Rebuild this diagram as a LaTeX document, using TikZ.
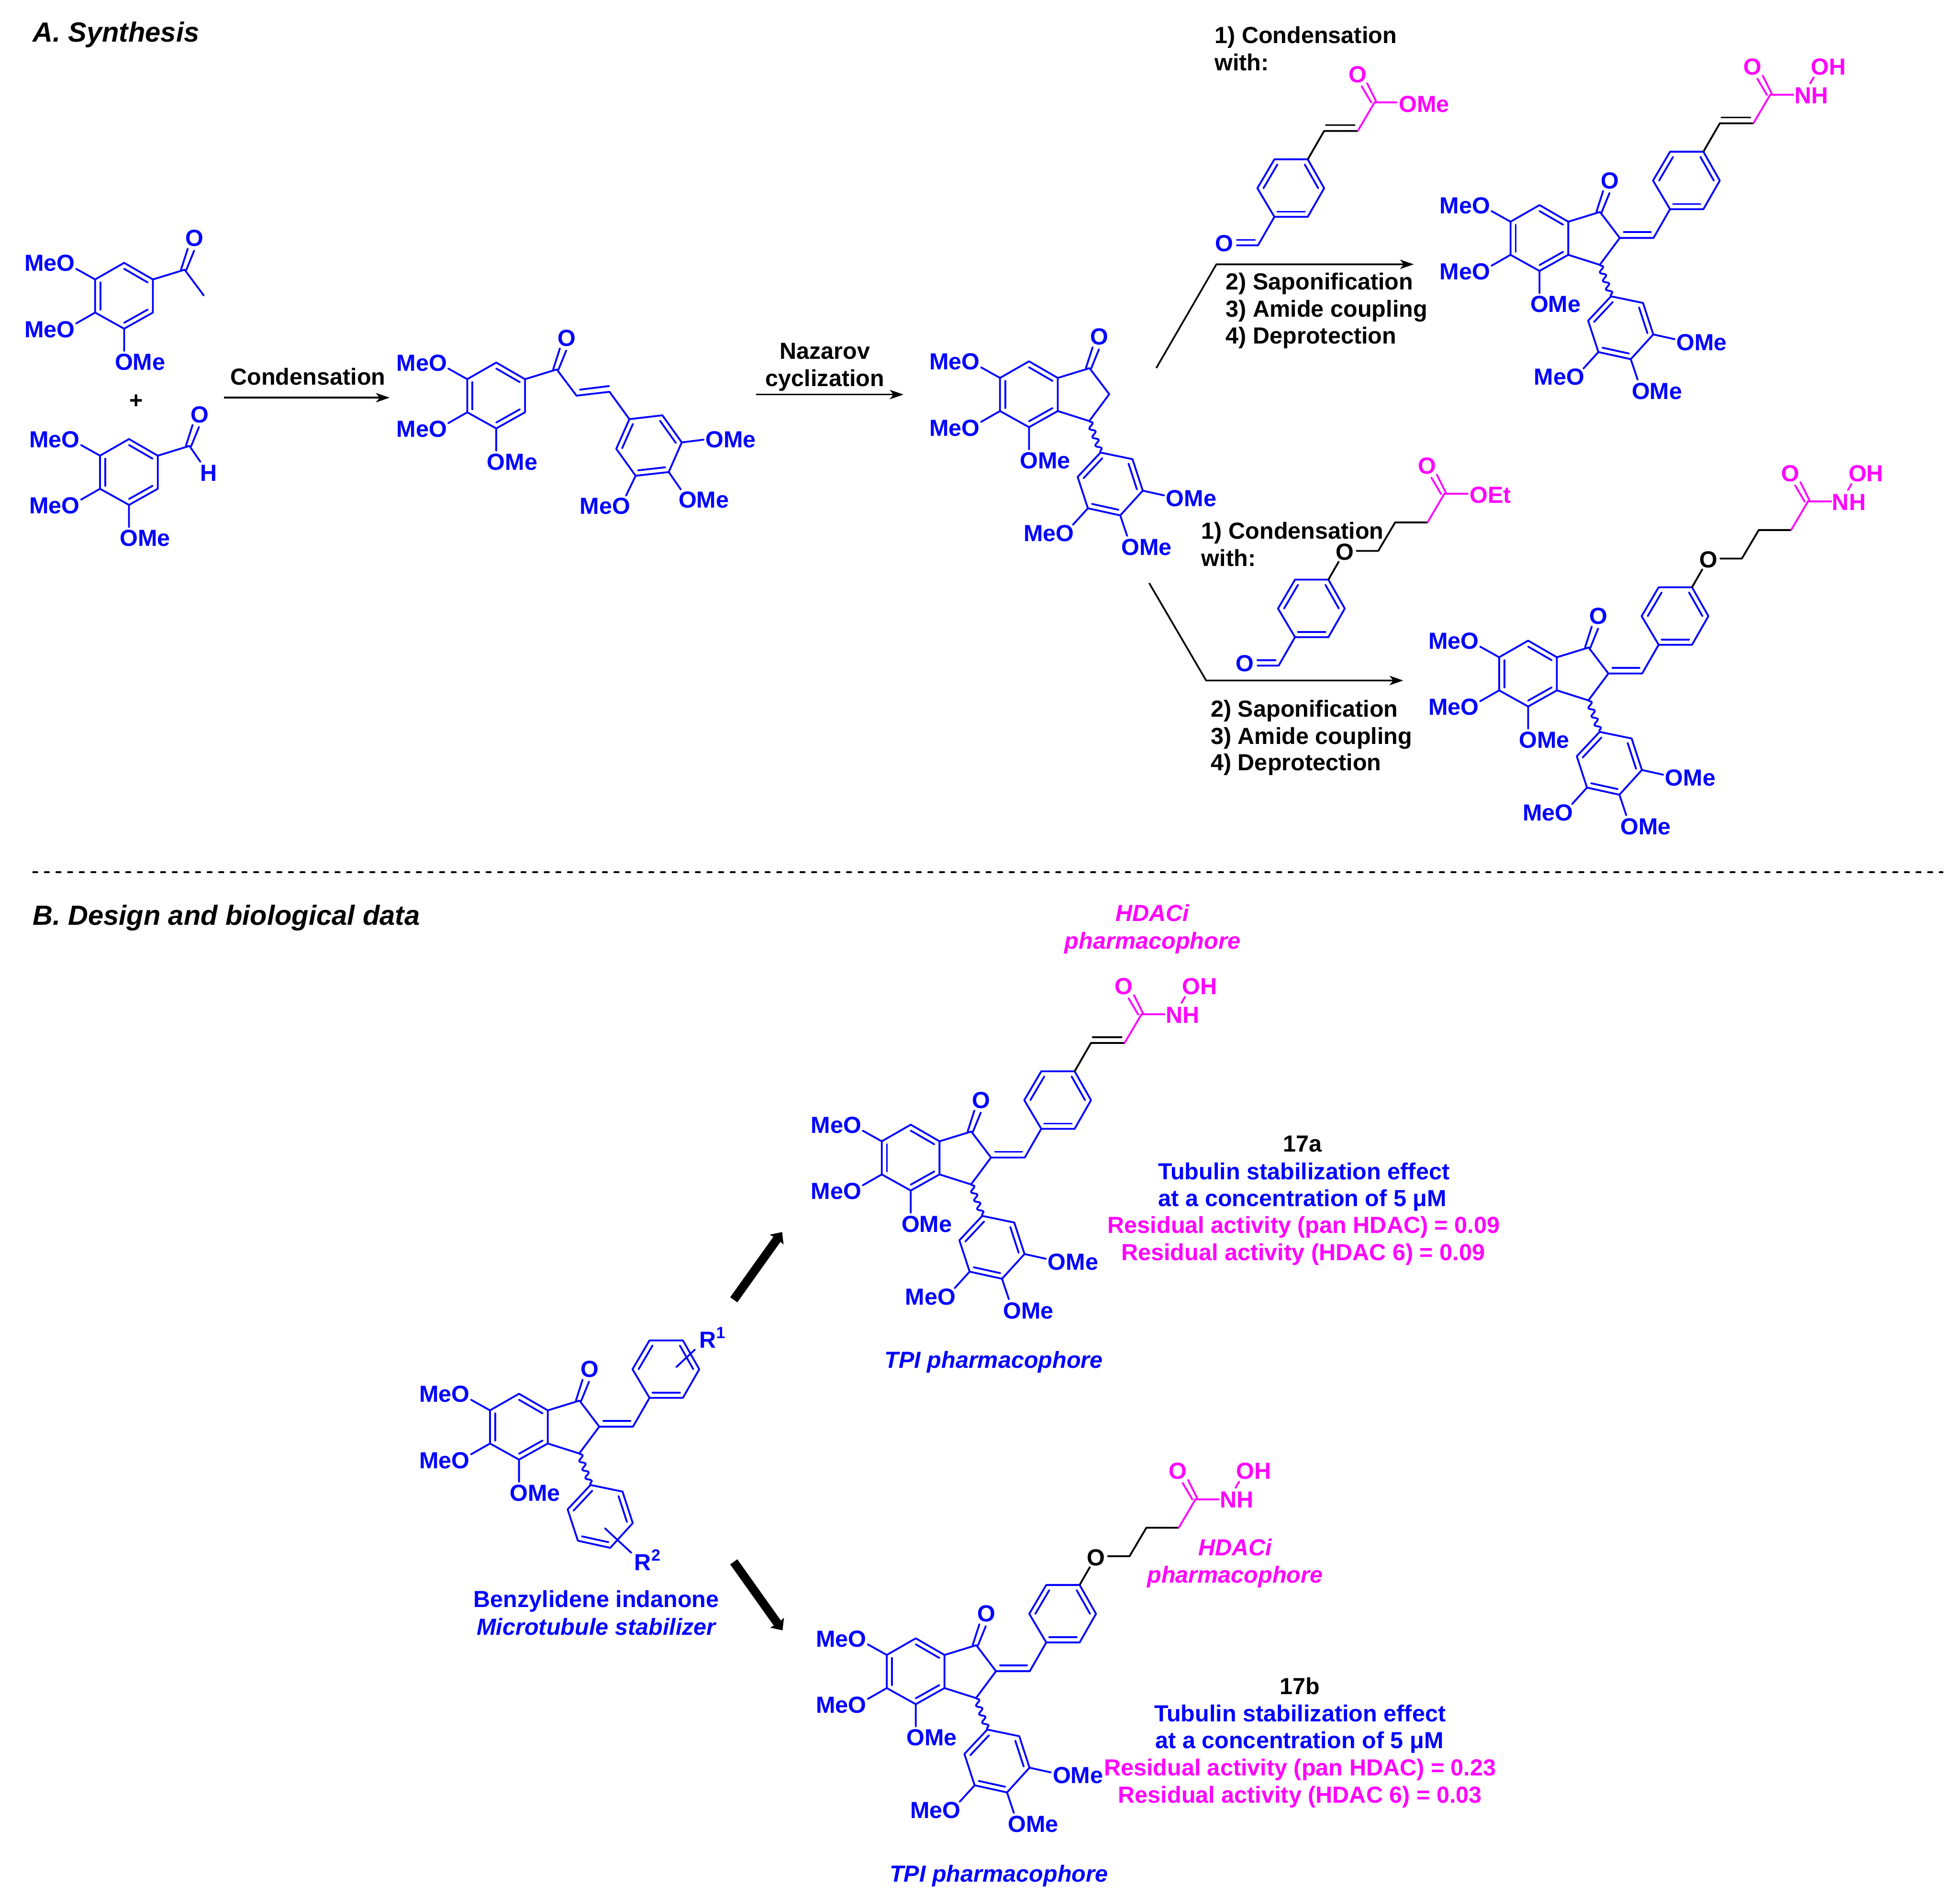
\documentclass[tikz,border=0pt]{standalone}
\usepackage{fontspec}
\setmainfont{Liberation Sans}
\usetikzlibrary{calc,arrows.meta,decorations.pathmorphing}
\definecolor{mblue}{rgb}{0,0,1}
\definecolor{mmag}{rgb}{1,0,1}
\tikzset{
  bond/.style={line width=1.45pt,line cap=round,line join=round},
  txt/.style={inner sep=0pt,text height=13.3pt,text depth=0pt,font=\fontsize{18.6}{22}\selectfont\bfseries},
  itxt/.style={txt,font=\fontsize{18.6}{22}\selectfont\bfseries\itshape},
  head/.style={inner sep=0pt,anchor=base west,font=\fontsize{22.2}{26}\selectfont\bfseries\itshape},
  rxn/.style={line width=1.35pt,line join=miter,-{Stealth[length=11pt,width=7.5pt,inset=3pt]}},
  big/.style={line width=7pt,-{Stealth[length=7.5pt,width=13.4pt,inset=1pt]}},
  wavy/.style={bond,decorate,decoration={snake,amplitude=2.1pt,segment length=7.2pt}}
}
% inner line of a double bond in a ring: ends, ring centre
\newcommand\inb[3]{\draw[bond] ($(#3)!0.82!(#1)$) -- ($(#3)!0.82!(#2)$);}
% trimethoxyphenyl ring, prefix, position of a3
\newcommand\TMP[2]{\begin{scope}[shift={(#2)},mblue,text=mblue]
  \coordinate (a1) at (-46.2,0); \coordinate (a2) at (-23,-13.3); \coordinate (a3) at (0,0);
  \coordinate (a4) at (0,26.5); \coordinate (a5) at (-23,39.4); \coordinate (a6) at (-46.2,26.5);
  \coordinate (ac) at ($(a1)!.5!(a4)$);
  \draw[bond] (a1)--(a2)--(a3)--(a4)--(a5)--(a6)--cycle;
  \inb{a1}{a6}{ac}\inb{a2}{a3}{ac}\inb{a4}{a5}{ac}
  \draw[bond] (a1)--(-61.4,-8.5) (a6)--(-61.4,35.2) (a5)--(-23,57.2);
  \node[txt] (#1-m1) at (-82.6,-13.2) {MeO};
  \node[txt] (#1-m2) at (-82.6,39.7) {MeO};
  \node[txt] (#1-m3) at (-10.2,65.9) {OMe};
 \end{scope}}
% ketone on a3
\newcommand\KET[2]{\begin{scope}[shift={(#2)},mblue,text=mblue]
  \coordinate (k1) at (25.4,-7.8);
  \draw[bond] (a3)--(k1);
  \draw[bond] (22.5,-7.8)--(27.9,-24.6) (26.7,-7.5)--(33,-23);
  \node[txt] (#1-o) at (33.4,-33.2) {O};
 \end{scope}}
% lower aryl ring, wavy bond from C3
\newcommand\LOW[2]{\begin{scope}[shift={(#2)},mblue,text=mblue]
  \coordinate (k2) at (41.2,13); \coordinate (k3) at (25.2,34.5);
  \coordinate (b1) at (34.2,59.7); \coordinate (b2) at (59.8,65); \coordinate (b3) at (68,90.2);
  \coordinate (b4) at (50,110); \coordinate (b5) at (24.1,104.3); \coordinate (b6) at (15.9,79.2);
  \coordinate (bc) at ($(b1)!.5!(b4)$);
  \draw[bond] (a4)--(k3)--(k2)--(k1);
  \draw[wavy] (k3)--(b1);
  \draw[bond] (b1)--(b2)--(b3)--(b4)--(b5)--(b6)--cycle;
  \inb{b1}{b6}{bc}\inb{b2}{b3}{bc}\inb{b4}{b5}{bc}
 \end{scope}}
\newcommand\LOWOME[2]{\begin{scope}[shift={(#2)},mblue,text=mblue]
  \draw[bond] (b3)--(85.1,94) (b4)--(55.5,126.4) (b5)--(12.1,117.5);
  \node[txt] (#1-m4) at (106.8,96.2) {OMe};
  \node[txt] (#1-m5) at (71,135.3) {OMe};
  \node[txt] (#1-m6) at (-7.2,124.1) {MeO};
 \end{scope}}
% para ring: d1 at given point
\newcommand\PARA[1]{\begin{scope}[shift={(#1)},mblue,text=mblue]
  \coordinate (d1) at (0,0); \coordinate (d2) at (26.7,0); \coordinate (d3) at (39.8,-22.9);
  \coordinate (d4) at (26.7,-46); \coordinate (d5) at (0,-46); \coordinate (d6) at (-13.6,-22.9);
  \coordinate (dc) at ($(d1)!.5!(d4)$);
  \draw[bond] (d1)--(d2)--(d3)--(d4)--(d5)--(d6)--cycle;
  \inb{d1}{d2}{dc}\inb{d3}{d4}{dc}\inb{d5}{d6}{dc}
 \end{scope}}
% exocyclic benzylidene
\newcommand\EXO[1]{\begin{scope}[shift={(#1)},mblue]
  \coordinate (x1) at (68.2,13);
  \draw[bond] (k2)--(x1)--(81.4,-10);
  \draw[bond] (44.5,8.4)--(66,8.4);
 \end{scope}
 \PARA{$(#1)+(81.4,-10)$}}
% amide end, from C
\newcommand\AMIDE[2]{\begin{scope}[shift={(#2)},mmag,text=mmag]
  \draw[bond] (0,0)--(18.5,0);
  \draw[bond] (1.3,-0.9)--(-6,-15.5) (-2.5,0.2)--(-10.3,-13);
  \node[txt] (#1-ao) at (-14,-22.8) {O};
  \node[txt] (#1-nh) at (32.9,0.3) {NH};
  \draw[bond] (32,-9.1)--(34.9,-14.1);
  \node[txt] (#1-oh) at (46.5,-22.8) {OH};
 \end{scope}}
% acrylic chain from d4
\newcommand\ACRYL[1]{\begin{scope}[shift={(d4)}]
  \draw[bond,black] (0,0)--(13.1,-22.7)--(40,-22.7);
  \draw[bond,black] (14.5,-27.4)--(37.5,-27.4);
  \draw[bond,mmag] (40,-22.7)--(53.4,-45.5);
  \coordinate (cc) at (53.4,-45.5);
 \end{scope}}
% ether chain from d4
\newcommand\ETHER[1]{\begin{scope}[shift={(d4)}]
  \draw[bond,black] (0,0)--(8.2,-14.3);
  \node[txt,text=black] (#1-eo) at (13.1,-22.3) {O};
  \draw[bond,black] (22.6,-23)--(39.9,-23)--(53.4,-45.8)--(79.3,-45.8);
  \draw[bond,mmag] (79.3,-45.8)--(92.7,-68.6);
  \coordinate (cc) at (92.7,-68.6);
 \end{scope}}
% aldehyde on d1
\newcommand\ALD[1]{\begin{scope}[shift={(d1)},mblue,text=mblue]
  \draw[bond] (0,0)--(-13.1,22.8)--(-30,22.8);
  \draw[bond] (-15.6,18.5)--(-30,18.5);
  \node[txt] (#1-o) at (-40,21) {O};
 \end{scope}}
\begin{document}
\begin{tikzpicture}[x=1pt,y=-1pt]
\useasboundingbox (0,0) rectangle (1568,1517);
\node[head] (ta) at (26,33.5) {A. Synthesis};
\node[head] (tb) at (26,740) {B. Design and biological data};
\coordinate (dl) at (26.6,698); \coordinate (dr) at (1554,698);
\draw[line width=1.6pt,line cap=round,dash pattern=on 3.2pt off 6.1pt] (dl)--(dr);

% reactants
\TMP{ra}{122.3,223.6}
\KET{ra}{122.3,223.6}
\begin{scope}[mblue]\draw[bond] (147.7,215.8)--(163,236.4);\end{scope}
\node[txt] (plus) at (109,320) {+};
\TMP{rb}{126.2,364.6}
\KET{rb}{126.2,364.6}
\begin{scope}[mblue,text=mblue]
 \draw[bond] (151.6,356.8)--(160.3,369.5);
 \node[txt] (rb-h) at (166.9,378.3) {H};
\end{scope}

% chalcone
\TMP{ch}{420,303.4}
\KET{ch}{420,303.4}
\begin{scope}[mblue,text=mblue]
 \coordinate (s1) at (503.5,335.4); \coordinate (s2) at (529.9,332.3); \coordinate (s3) at (545.4,354);
 \coordinate (s4) at (535,377.7); \coordinate (s5) at (508.5,380.7); \coordinate (s6) at (493,359.1);
 \coordinate (sc) at ($(s1)!.5!(s4)$);
 \draw[bond] (k1)--(461.2,316.6)--(487.6,313.5)--(s1);
 \draw[bond] (463.9,311.8)--(487.2,308.9);
 \draw[bond] (s1)--(s2)--(s3)--(s4)--(s5)--(s6)--cycle;
 \inb{s1}{s6}{sc}\inb{s2}{s3}{sc}\inb{s4}{s5}{sc}
 \draw[bond] (s3)--(562.9,351.8) (s4)--(544.6,391.6) (s5)--(500.8,396.6);
 \node[txt] (ch-m4) at (584.6,351.5) {OMe};
 \node[txt] (ch-m5) at (563,399.8) {OMe};
 \node[txt] (ch-m6) at (484,404.8) {MeO};
\end{scope}

% Nazarov product
\TMP{na}{846.2,302.4}
\KET{na}{846.2,302.4}
\LOW{na}{846.2,302.4}
\LOWOME{na}{846.2,302.4}

% reagent 1
\PARA{1019.5,173.5}
\ALD{ra1}
\ACRYL{ra1}
\begin{scope}[shift={(cc)},mmag,text=mmag]
 \draw[bond] (0,0)--(17.5,0);
 \draw[bond] (1.3,-0.9)--(-6,-15.5) (-2.5,0.2)--(-10.3,-13);
 \node[txt] (ra1-o) at (-13.6,-22.6) {O};
 \node[txt] (ra1-ome) at (39.6,1) {OMe};
\end{scope}

% product 1
\TMP{p1}{1254.6,177.4}
\KET{p1}{1254.6,177.4}
\LOW{p1}{1254.6,177.4}
\LOWOME{p1}{1254.6,177.4}
\EXO{1254.6,177.4}
\ACRYL{p1}
\AMIDE{p1}{cc}

% reagent 2
\PARA{1036,509.8}
\ALD{ra2}
\ETHER{ra2}
\begin{scope}[shift={(cc)},mmag,text=mmag]
 \draw[bond] (0,0)--(18.6,0);
 \draw[bond] (1.3,-0.9)--(-6,-15.5) (-2.5,0.2)--(-10.3,-13);
 \node[txt] (ra2-o) at (-13.6,-22.6) {O};
 \node[txt] (ra2-oet) at (37,0.5) {OEt};
\end{scope}

% product 2
\TMP{p2}{1245.5,525.9}
\KET{p2}{1245.5,525.9}
\LOW{p2}{1245.5,525.9}
\LOWOME{p2}{1245.5,525.9}
\EXO{1245.5,525.9}
\ETHER{p2}
\AMIDE{p2}{cc}

% section B: 17a
\TMP{a}{751.6,913.2}
\KET{a}{751.6,913.2}
\LOW{a}{751.6,913.2}
\LOWOME{a}{751.6,913.2}
\EXO{751.6,913.2}
\ACRYL{a}
\AMIDE{a}{cc}

% 17b
\TMP{b}{755.6,1324.2}
\KET{b}{755.6,1324.2}
\LOW{b}{755.6,1324.2}
\LOWOME{b}{755.6,1324.2}
\EXO{755.6,1324.2}
\ETHER{b}
\AMIDE{b}{cc}

% benzylidene indanone
\TMP{g}{438.2,1128.5}
\KET{g}{438.2,1128.5}
\LOW{g}{438.2,1128.5}
\EXO{438.2,1128.5}
\begin{scope}[shift={(438.2,1128.5)},mblue,text=mblue]
 \draw[bond] (102.9,-34.7)--(117.7,-48.6);
 \draw[bond] (45.8,94.4)--(66.8,113.9);
 \node[inner sep=0pt,anchor=base west,font=\fontsize{18.6}{22}\selectfont\bfseries] (g-r1) at (121.1,-49.9) {R\raisebox{.42em}{\fontsize{13}{13}\selectfont 1}};
 \node[inner sep=0pt,anchor=base west,font=\fontsize{18.6}{22}\selectfont\bfseries] (g-r2) at (69.2,128.2) {R\raisebox{.42em}{\fontsize{13}{13}\selectfont 2}};
\end{scope}

% reaction arrows
\coordinate (a1s) at (179,318.2); \coordinate (a1e) at (311.7,318.2);
\draw[rxn] (a1s)--(a1e);
\node[txt] (tcond) at (246.3,301.5) {Condensation};
\coordinate (a2s) at (605,315.7); \coordinate (a2e) at (722.8,315.7);
\draw[rxn] (a2s)--(a2e);
\node[txt] (tnaz) at (660,280.5) {Nazarov};
\node[txt] (tcyc) at (660,302.5) {cyclization};
\coordinate (u1) at (925,294.5); \coordinate (u2) at (973.1,211.5); \coordinate (u3) at (1131,211.5);
\draw[rxn] (u1)--(u2)--(u3);
\coordinate (l1) at (919.3,466.5); \coordinate (l2) at (964.9,544.5); \coordinate (l3) at (1122.6,544.5);
\draw[rxn] (l1)--(l2)--(l3);
\coordinate (b1s) at (587,1040); \coordinate (b1e) at (625.7,985.8);
\draw[big] (b1s)--(b1e);
\coordinate (b2s) at (587,1249.7); \coordinate (b2e) at (626,1304.5);
\draw[big] (b2s)--(b2e);

% upper route texts
\node[txt,anchor=west] (u-1) at (971.5,28) {1) Condensation};
\node[txt,anchor=west] (u-2) at (971.5,50) {with:};
\node[txt,anchor=west] (u-3) at (980.5,225.2) {2) Saponification};
\node[txt,anchor=west] (u-4) at (980.5,247) {3) Amide coupling};
\node[txt,anchor=west] (u-5) at (980.5,268.5) {4) Deprotection};
% lower route texts
\node[txt,anchor=west] (l-1) at (961,424.6) {1) Condensation};
\node[txt,anchor=west] (l-2) at (961,446.4) {with:};
\node[txt,anchor=west] (l-3) at (968.4,567) {2) Saponification};
\node[txt,anchor=west] (l-4) at (968.4,588.8) {3) Amide coupling};
\node[txt,anchor=west] (l-5) at (968.4,610) {4) Deprotection};

% section B texts
\node[itxt,text=mmag] (h1) at (922,730.5) {HDACi};
\node[itxt,text=mmag] (h2) at (922,752.5) {pharmacophore};
\node[txt] (i1) at (1042,915) {17a};
\node[txt,text=mblue] (i2) at (1043,937) {Tubulin stabilization effect};
\node[txt,text=mblue] (i3) at (1042,958.5) {at a concentration of 5 μM};
\node[txt,text=mmag] (i4) at (1043,980) {Residual activity (pan HDAC) = 0.09};
\node[txt,text=mmag] (i5) at (1042.5,1002) {Residual activity (HDAC 6) = 0.09};
\node[itxt,text=mblue] (t1) at (795,1088) {TPI pharmacophore};
\node[txt,text=mblue] (bz) at (477,1279.5) {Benzylidene indanone};
\node[itxt,text=mblue] (ms) at (477,1301.5) {Microtubule stabilizer};
\node[itxt,text=mmag] (h3) at (988,1238) {HDACi};
\node[itxt,text=mmag] (h4) at (988,1260) {pharmacophore};
\node[txt] (j1) at (1040,1349) {17b};
\node[txt,text=mblue] (j2) at (1040,1371) {Tubulin stabilization effect};
\node[txt,text=mblue] (j3) at (1039.5,1392.5) {at a concentration of 5 μM};
\node[txt,text=mmag] (j4) at (1040,1414) {Residual activity (pan HDAC) = 0.23};
\node[txt,text=mmag] (j5) at (1040,1436) {Residual activity (HDAC 6) = 0.03};
\node[itxt,text=mblue] (t2) at (799,1499) {TPI pharmacophore};
\end{tikzpicture}
\end{document}
